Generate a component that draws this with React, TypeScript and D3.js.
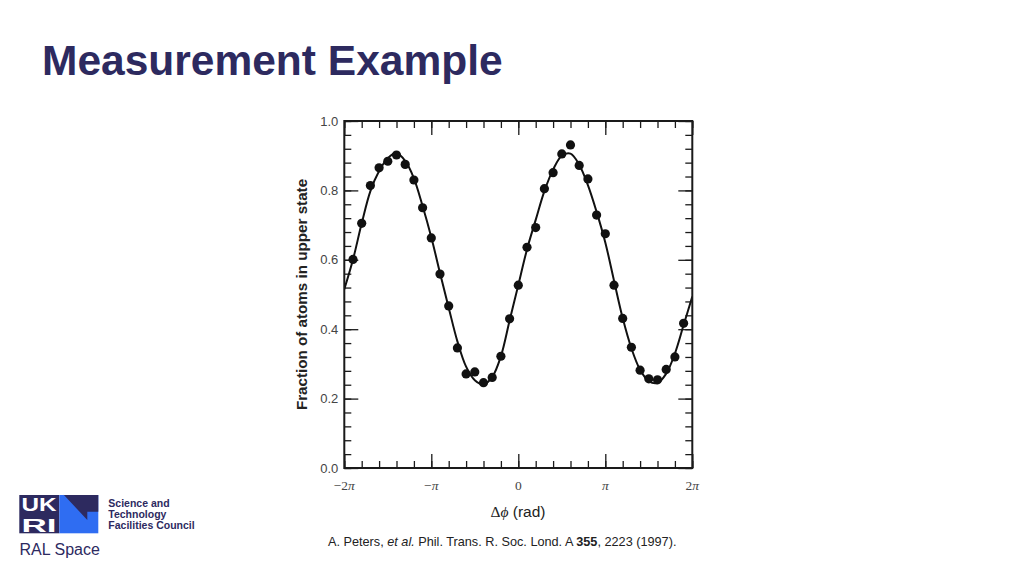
import React, { useEffect, useRef } from 'react';
import * as d3 from 'd3';

const PI = Math.PI;

// measured points: phase in units of pi, fraction of atoms in upper state
const dotPhase = [
  -1.9, -1.8, -1.7, -1.6, -1.5, -1.4, -1.3, -1.2, -1.1, -1.0,
  -0.9, -0.8, -0.7, -0.6, -0.5, -0.4, -0.3, -0.2, -0.1, 0.0,
  0.1, 0.2, 0.3, 0.4, 0.5, 0.6, 0.7, 0.8, 0.9, 1.0,
  1.1, 1.2, 1.3, 1.4, 1.5, 1.6, 1.7, 1.8, 1.9,
];
const dotFraction = [
  0.601, 0.705, 0.814, 0.865, 0.884, 0.902, 0.875, 0.830, 0.750, 0.663,
  0.559, 0.467, 0.346, 0.271, 0.277, 0.246, 0.261, 0.322, 0.430, 0.527,
  0.636, 0.693, 0.805, 0.851, 0.905, 0.931, 0.872, 0.833, 0.729, 0.675,
  0.527, 0.431, 0.348, 0.282, 0.257, 0.254, 0.284, 0.320, 0.417,
];

// fitted curve, phase in units of pi
const fitPhase = [
  -2.0, -1.9, -1.8, -1.7, -1.6, -1.5, -1.4, -1.3, -1.2, -1.1, -1.0,
  -0.9, -0.8, -0.7, -0.6, -0.5, -0.4, -0.3, -0.2, -0.1, 0.0,
  0.1, 0.2, 0.3, 0.4, 0.5, 0.6, 0.7, 0.8, 0.9, 1.0,
  1.1, 1.2, 1.3, 1.4, 1.5, 1.6, 1.7, 1.8, 1.9, 2.0,
];
const fitFraction = [
  0.515, 0.601, 0.705, 0.798, 0.856, 0.893, 0.908, 0.885, 0.835, 0.755, 0.665,
  0.562, 0.462, 0.365, 0.292, 0.253, 0.241, 0.262, 0.322, 0.425, 0.527,
  0.630, 0.715, 0.798, 0.860, 0.900, 0.906, 0.874, 0.815, 0.738, 0.650,
  0.540, 0.432, 0.345, 0.283, 0.250, 0.245, 0.272, 0.330, 0.412, 0.494,
];

const xMajor = [-2, -1, 0, 1, 2];
const xTickPrefix = ['\u22122', '\u2212', '0', '', '2'];
const xTickHasPi = [true, true, false, true, true];
const yMajor = [0, 0.2, 0.4, 0.6, 0.8, 1.0];
const yTickLabels = ['0.0', '0.2', '0.4', '0.6', '0.8', '1.0'];

const SANS = '"Liberation Sans", Arial, Helvetica, sans-serif';
const SERIF = '"Liberation Serif", "Times New Roman", serif';
const NAVY = '#2d2a5f';

const App: React.FC = () => {
  const ref = useRef<SVGSVGElement>(null);

  useEffect(() => {
    if (!ref.current) return;
    const svg = d3.select(ref.current);
    svg.selectAll('*').remove();

    const plot = { left: 344.3, right: 692.3, top: 121, bottom: 468 };

    const x = d3.scaleLinear().domain([-2 * PI, 2 * PI]).range([plot.left, plot.right]);
    const y = d3.scaleLinear().domain([0, 1]).range([plot.bottom, plot.top]);

    // title
    svg.append('text')
      .attr('x', 42).attr('y', 75)
      .attr('font-family', SANS).attr('font-weight', 700).attr('font-size', 42.5)
      .attr('fill', NAVY)
      .text('Measurement Example');

    // ticks on all four sides, pointing inwards
    const xMinor = d3.range(-2, 2.0001, 0.2).map(v => v * PI);
    const yMinor = d3.range(0, 1.0001, 0.04);
    const xMajorRad = xMajor.map(v => v * PI);

    const addAxis = (axis: any, transform: string) => {
      const g = svg.append('g').attr('transform', transform).call(axis);
      g.select('.domain').remove();
      g.selectAll('text').remove();
      g.selectAll('line').attr('stroke', '#1a1a1a').attr('stroke-width', 1.3);
    };

    addAxis(d3.axisBottom(x).tickValues(xMinor).tickSize(-7), `translate(0,${plot.bottom})`);
    addAxis(d3.axisBottom(x).tickValues(xMajorRad).tickSize(-14), `translate(0,${plot.bottom})`);
    addAxis(d3.axisTop(x).tickValues(xMinor).tickSize(-7), `translate(0,${plot.top})`);
    addAxis(d3.axisTop(x).tickValues(xMajorRad).tickSize(-14), `translate(0,${plot.top})`);
    addAxis(d3.axisLeft(y).tickValues(yMinor).tickSize(-7), `translate(${plot.left},0)`);
    addAxis(d3.axisLeft(y).tickValues(yMajor).tickSize(-14), `translate(${plot.left},0)`);
    addAxis(d3.axisRight(y).tickValues(yMinor).tickSize(-7), `translate(${plot.right},0)`);
    addAxis(d3.axisRight(y).tickValues(yMajor).tickSize(-14), `translate(${plot.right},0)`);

    // y tick labels
    svg.append('g').selectAll('text')
      .data(yMajor)
      .enter().append('text')
      .attr('x', plot.left - 6)
      .attr('y', d => y(d))
      .attr('dy', '0.36em')
      .attr('text-anchor', 'end')
      .attr('font-family', SANS).attr('font-size', 13)
      .attr('fill', '#444')
      .text((d, i) => yTickLabels[i]);

    // x tick labels
    const xl = svg.append('g').selectAll('text')
      .data(xMajor)
      .enter().append('text')
      .attr('x', d => x(d * PI))
      .attr('y', 490)
      .attr('text-anchor', 'middle')
      .attr('font-family', SERIF).attr('font-size', 13.5)
      .attr('fill', '#444');
    xl.append('tspan').text((d, i) => xTickPrefix[i]);
    xl.append('tspan').attr('font-style', 'italic').text((d, i) => (xTickHasPi[i] ? '\u03c0' : ''));

    // y axis title
    svg.append('text')
      .attr('transform', `translate(302,294.5) rotate(-90)`)
      .attr('dy', '0.36em')
      .attr('text-anchor', 'middle')
      .attr('font-family', SANS).attr('font-weight', 700).attr('font-size', 15.2)
      .attr('fill', '#222')
      .text('Fraction of atoms in upper state');

    // x axis title
    const xt = svg.append('text')
      .attr('x', 518).attr('y', 517)
      .attr('text-anchor', 'middle')
      .attr('font-size', 15.5)
      .attr('fill', '#222');
    xt.append('tspan').attr('font-family', SERIF).text('\u0394');
    xt.append('tspan').attr('font-family', SERIF).attr('font-style', 'italic').text('\u03d5');
    xt.append('tspan').attr('font-family', SANS).text(' (rad)');

    // clip for the fit curve
    svg.append('clipPath').attr('id', 'plot-clip')
      .append('rect')
      .attr('x', plot.left).attr('y', plot.top)
      .attr('width', plot.right - plot.left).attr('height', plot.bottom - plot.top);

    const fit = fitPhase.map((p, i) => [p * PI, fitFraction[i]] as [number, number]);
    const line = d3.line<[number, number]>()
      .x(d => x(d[0]))
      .y(d => y(d[1]))
      .curve(d3.curveCatmullRom.alpha(0.5));

    svg.append('path')
      .attr('clip-path', 'url(#plot-clip)')
      .attr('d', line(fit) ?? '')
      .attr('fill', 'none')
      .attr('stroke', '#111')
      .attr('stroke-width', 2);

    svg.append('g').selectAll('circle')
      .data(dotPhase)
      .enter().append('circle')
      .attr('cx', d => x(d * PI))
      .attr('cy', (d, i) => y(dotFraction[i]))
      .attr('r', 4.6)
      .attr('fill', '#111');

    // frame
    svg.append('rect')
      .attr('x', plot.left).attr('y', plot.top)
      .attr('width', plot.right - plot.left).attr('height', plot.bottom - plot.top)
      .attr('fill', 'none')
      .attr('stroke', '#1a1a1a')
      .attr('stroke-width', 2);

    // citation
    const cite = svg.append('text')
      .attr('x', 328).attr('y', 546)
      .attr('font-family', SANS).attr('font-size', 12.7)
      .attr('fill', '#222');
    cite.append('tspan').text('A. Peters, ');
    cite.append('tspan').attr('font-style', 'italic').text('et al.');
    cite.append('tspan').text(' Phil. Trans. R. Soc. Lond. A ');
    cite.append('tspan').attr('font-weight', 700).text('355');
    cite.append('tspan').text(', 2223 (1997).');

    // logo
    const logo = svg.append('g');
    logo.append('rect').attr('x', 19.3).attr('y', 495).attr('width', 40).attr('height', 38.3).attr('fill', NAVY);
    logo.append('rect').attr('x', 59.3).attr('y', 495).attr('width', 39).attr('height', 38.3).attr('fill', '#2f6df2');
    logo.append('polygon')
      .attr('points', '59.3,490 87.3,520 87.3,511.7 98.3,511.7 98.3,495 64,495')
      .attr('fill', NAVY);
    logo.append('text')
      .attr('x', 21.5).attr('y', 511)
      .attr('font-family', SANS).attr('font-weight', 700).attr('font-size', 18)
      .attr('textLength', 35).attr('lengthAdjust', 'spacingAndGlyphs')
      .attr('fill', '#fff').text('UK');
    logo.append('text')
      .attr('x', 21.5).attr('y', 532)
      .attr('font-family', SANS).attr('font-weight', 700).attr('font-size', 18)
      .attr('textLength', 35).attr('lengthAdjust', 'spacingAndGlyphs')
      .attr('fill', '#fff').text('RI');

    const council = ['Science and', 'Technology', 'Facilities Council'];
    logo.append('g').selectAll('text')
      .data(council)
      .enter().append('text')
      .attr('x', 108.3)
      .attr('y', (d, i) => 506.7 + i * 11.2)
      .attr('font-family', SANS).attr('font-weight', 700).attr('font-size', 10.5)
      .attr('fill', NAVY)
      .text(d => d);

    logo.append('text')
      .attr('x', 19.5).attr('y', 555)
      .attr('font-family', SANS).attr('font-size', 16)
      .attr('fill', NAVY)
      .text('RAL Space');
  }, []);

  return (
    <svg
      ref={ref}
      width={1024}
      height={575}
      style={{ position: 'absolute', left: 0, top: 0, background: '#fff' }}
    />
  );
};

export default App;
